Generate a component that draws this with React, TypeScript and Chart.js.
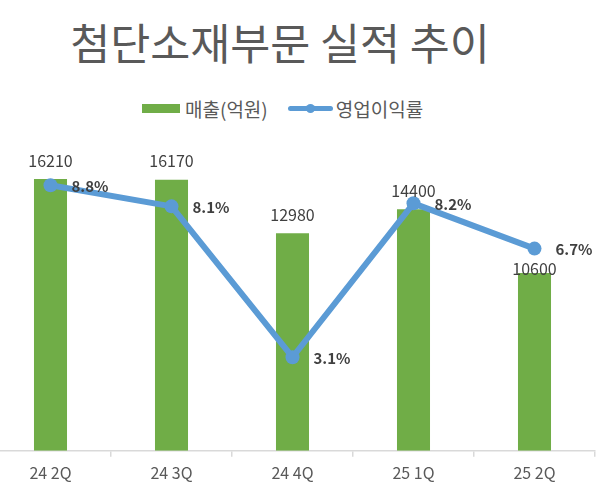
import { useEffect, useRef } from "react";
import { Chart, registerables } from "chart.js";

Chart.register(...registerables);

const categories = ["24 2Q", "24 3Q", "24 4Q", "25 1Q", "25 2Q"];
const sales = [16210, 16170, 12980, 14400, 10600];
const margin = [8.8, 8.1, 3.1, 8.2, 6.7];

const barColor = "#70AD47";
const lineColor = "#5B9BD5";
const fontFamily = "'Noto Sans CJK KR', 'Noto Sans', sans-serif";

// draws value labels: sales above bars, margin to the right of points
const labelPlugin = {
  id: "valueLabels",
  afterDatasetsDraw(chart: Chart) {
    const ctx = chart.ctx;
    const lineMeta = chart.getDatasetMeta(0);
    const barMeta = chart.getDatasetMeta(1);

    ctx.save();
    ctx.textBaseline = "middle";

    ctx.font = `16px ${fontFamily}`;
    ctx.fillStyle = "#404040";
    ctx.textAlign = "center";
    barMeta.data.forEach((bar: any, i: number) => {
      let y = bar.y - 18.5;
      const pt: any = lineMeta.data[i];
      // move the label under the marker if the marker sits on it
      if (pt && pt.y < y && y - pt.y < 15) y = pt.y + 20;
      ctx.fillText(String(sales[i]), bar.x, y);
    });

    ctx.font = `bold 15px ${fontFamily}`;
    ctx.textAlign = "left";
    lineMeta.data.forEach((pt: any, i: number) => {
      ctx.fillText(margin[i].toFixed(1) + "%", pt.x + 21, pt.y + 1);
    });
    ctx.restore();
  },
};

export default function App() {
  const chartRef = useRef<HTMLCanvasElement>(null);

  useEffect(() => {
    document.body.style.margin = "0";
    if (!chartRef.current) return;

    const chart = new Chart(chartRef.current, {
      type: "bar",
      data: {
        labels: categories,
        datasets: [
          {
            type: "line",
            label: "영업이익률",
            data: margin,
            yAxisID: "y2",
            borderColor: lineColor,
            backgroundColor: lineColor,
            borderWidth: 6,
            borderJoinStyle: "round",
            borderCapStyle: "round",
            pointRadius: 7,
            pointBorderWidth: 0,
            pointBackgroundColor: lineColor,
            tension: 0,
            order: 0,
          },
          {
            type: "bar",
            label: "매출(억원)",
            data: sales,
            yAxisID: "y",
            backgroundColor: barColor,
            barPercentage: 0.273,
            categoryPercentage: 1,
            order: 1,
          },
        ],
      },
      options: {
        animation: false,
        responsive: true,
        maintainAspectRatio: false,
        layout: { autoPadding: false, padding: { top: 149, right: 2, bottom: 3, left: 0 } },
        plugins: {
          legend: { display: false },
          title: { display: false },
          tooltip: { enabled: false },
        },
        scales: {
          x: {
            grid: {
              offset: true,
              drawOnChartArea: false,
              drawTicks: true,
              tickLength: 6,
              color: "#D9D9D9",
              lineWidth: 1.5,
            },
            border: { color: "#D9D9D9", width: 1.5 },
            ticks: {
              color: "#595959",
              padding: 7,
              font: { family: fontFamily, size: 16 },
            },
          },
          y: { display: false, min: 0, max: 18000 },
          y2: { display: false, min: 0, max: 10, position: "right" },
        },
      },
      plugins: [labelPlugin],
    });

    return () => {
      chart.destroy();
    };
  }, []);

  return (
    <div
      style={{
        position: "relative",
        width: 597,
        height: 493,
        overflow: "hidden",
        background: "#fff",
        fontFamily,
      }}
    >
      <div
        style={{
          position: "absolute",
          left: 0,
          top: 17,
          width: 560,
          textAlign: "center",
          fontSize: 43.5,
          lineHeight: "50px",
          color: "#595959",
          whiteSpace: "nowrap",
        }}
      >
        첨단소재부문 실적 추이
      </div>
      <div
        style={{
          position: "absolute",
          left: 142,
          top: 98,
          height: 21,
          display: "flex",
          alignItems: "center",
          fontSize: 19,
          lineHeight: "21px",
          color: "#595959",
          whiteSpace: "nowrap",
        }}
      >
        <div style={{ width: 38, height: 9, background: barColor }} />
        <span style={{ marginLeft: 5 }}>매출(억원)</span>
        <div style={{ position: "relative", width: 45, height: 9, marginLeft: 20 }}>
          <div
            style={{
              position: "absolute",
              left: 0,
              top: 2,
              width: 45,
              height: 5,
              borderRadius: 3,
              background: lineColor,
            }}
          />
          <div
            style={{
              position: "absolute",
              left: 18,
              top: 0,
              width: 9,
              height: 9,
              borderRadius: "50%",
              background: lineColor,
            }}
          />
        </div>
        <span style={{ marginLeft: 3 }}>영업이익률</span>
      </div>
      <div style={{ position: "absolute", left: -10, top: 0, width: 607, height: 493 }}>
        <canvas ref={chartRef} />
      </div>
    </div>
  );
}
